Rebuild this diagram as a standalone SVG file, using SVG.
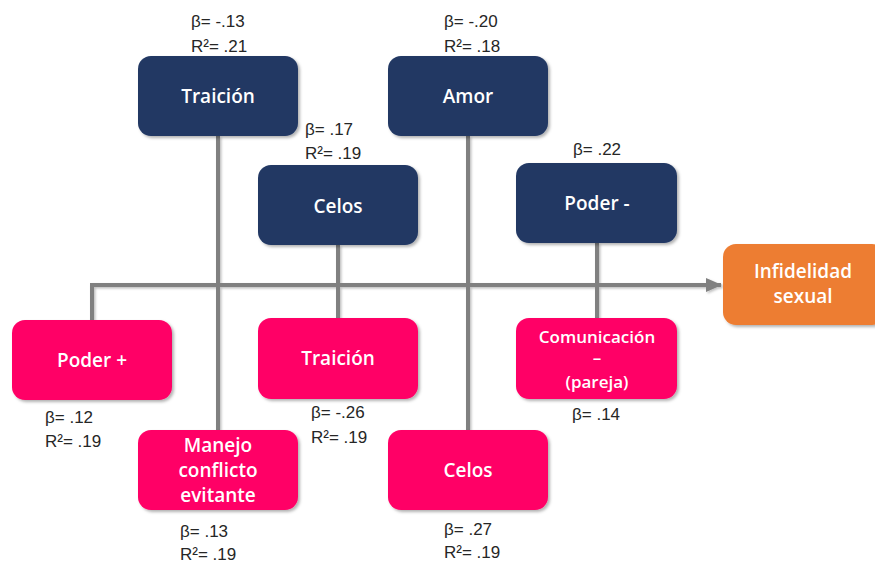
<svg xmlns="http://www.w3.org/2000/svg" width="875" height="563" viewBox="0 0 875 563">
  <defs>
    <filter id="shadow" x="-10%" y="-10%" width="125%" height="130%">
      <feDropShadow dx="2" dy="2" stdDeviation="1.5" flood-color="#000" flood-opacity="0.3"/>
    </filter>
    <filter id="lineShadow" x="-10%" y="-10%" width="120%" height="120%">
      <feDropShadow dx="1.5" dy="1.5" stdDeviation="1" flood-color="#000" flood-opacity="0.25"/>
    </filter>
    <marker id="arrow" viewBox="0 0 16 14" refX="15" refY="7" markerWidth="16" markerHeight="14" markerUnits="userSpaceOnUse" orient="auto">
      <path d="M0,0 L16,7 L0,14 Z" fill="#808080"/>
    </marker>
  </defs>
  <style>
    .navy { fill: #203864; }
    .pink { fill: #FF0066; }
    .orange { fill: #ED7D31; }
    .box { filter: url(#shadow); }
    .label { font-family: "Open Sans", "Noto Sans", sans-serif; font-weight: 600; fill: #FFFFFF; text-anchor: middle; font-size: 19px; }
    .small { font-size: 17px; }
    .stat { font-family: "Liberation Sans", Arial, sans-serif; font-size: 17px; fill: #262626; }
    .conn { stroke: #808080; stroke-width: 4; fill: none; }
  </style>

  <rect width="875" height="563" fill="#FFFFFF"/>

  <!-- connectors -->
  <g id="connectors" filter="url(#lineShadow)">
    <path class="conn" d="M92,320 V285 H721" marker-end="url(#arrow)"/>
    <line class="conn" x1="218" y1="136" x2="218" y2="430"/>
    <line class="conn" x1="338" y1="245" x2="338" y2="318"/>
    <line class="conn" x1="468" y1="136" x2="468" y2="430"/>
    <line class="conn" x1="597" y1="243" x2="597" y2="318"/>
  </g>

  <!-- predictor nodes (top row) -->
  <g id="traicion-top">
    <rect class="box navy" x="138" y="56" width="160" height="80" rx="13"/>
    <text class="label" x="218" y="103">Traición</text>
    <text class="stat" x="191" y="27">β= -.13</text>
    <text class="stat" x="191" y="52">R²= .21</text>
  </g>
  <g id="amor">
    <rect class="box navy" x="388" y="56" width="160" height="80" rx="13"/>
    <text class="label" x="468" y="103">Amor</text>
    <text class="stat" x="444" y="27">β= -.20</text>
    <text class="stat" x="444" y="52">R²= .18</text>
  </g>
  <g id="celos-top">
    <rect class="box navy" x="258" y="165" width="160" height="80" rx="13"/>
    <text class="label" x="338" y="213">Celos</text>
    <text class="stat" x="305" y="135">β= .17</text>
    <text class="stat" x="305" y="159">R²= .19</text>
  </g>
  <g id="poder-menos">
    <rect class="box navy" x="516" y="163" width="161" height="80" rx="13"/>
    <text class="label" x="597" y="210">Poder -</text>
    <text class="stat" x="573" y="155">β= .22</text>
  </g>

  <!-- outcome node -->
  <g id="infidelidad">
    <rect class="box orange" x="723" y="244" width="162" height="81" rx="13"/>
    <text class="label" x="803" y="278">Infidelidad</text>
    <text class="label" x="803" y="303">sexual</text>
  </g>

  <!-- predictor nodes (bottom row) -->
  <g id="poder-mas">
    <rect class="box pink" x="12" y="320" width="160" height="80" rx="13"/>
    <text class="label" x="92" y="367">Poder +</text>
    <text class="stat" x="45" y="423">β= .12</text>
    <text class="stat" x="45" y="447">R²= .19</text>
  </g>
  <g id="traicion-bottom">
    <rect class="box pink" x="258" y="318" width="160" height="81" rx="13"/>
    <text class="label" x="338" y="365">Traición</text>
    <text class="stat" x="311" y="418">β= -.26</text>
    <text class="stat" x="311" y="443">R²= .19</text>
  </g>
  <g id="comunicacion">
    <rect class="box pink" x="516" y="318" width="161" height="81" rx="13"/>
    <text class="label small" x="597" y="343">Comunicación</text>
    <text class="label small" x="597" y="364">–</text>
    <text class="label small" x="597" y="388">(pareja)</text>
    <text class="stat" x="572" y="420">β= .14</text>
  </g>
  <g id="manejo">
    <rect class="box pink" x="138" y="430" width="160" height="80" rx="13"/>
    <text class="label" x="218" y="452">Manejo</text>
    <text class="label" x="218" y="477">conflicto</text>
    <text class="label" x="218" y="502">evitante</text>
    <text class="stat" x="180" y="537">β= .13</text>
    <text class="stat" x="180" y="560">R²= .19</text>
  </g>
  <g id="celos-bottom">
    <rect class="box pink" x="388" y="430" width="160" height="80" rx="13"/>
    <text class="label" x="468" y="477">Celos</text>
    <text class="stat" x="444" y="535">β= .27</text>
    <text class="stat" x="444" y="558">R²= .19</text>
  </g>
</svg>
